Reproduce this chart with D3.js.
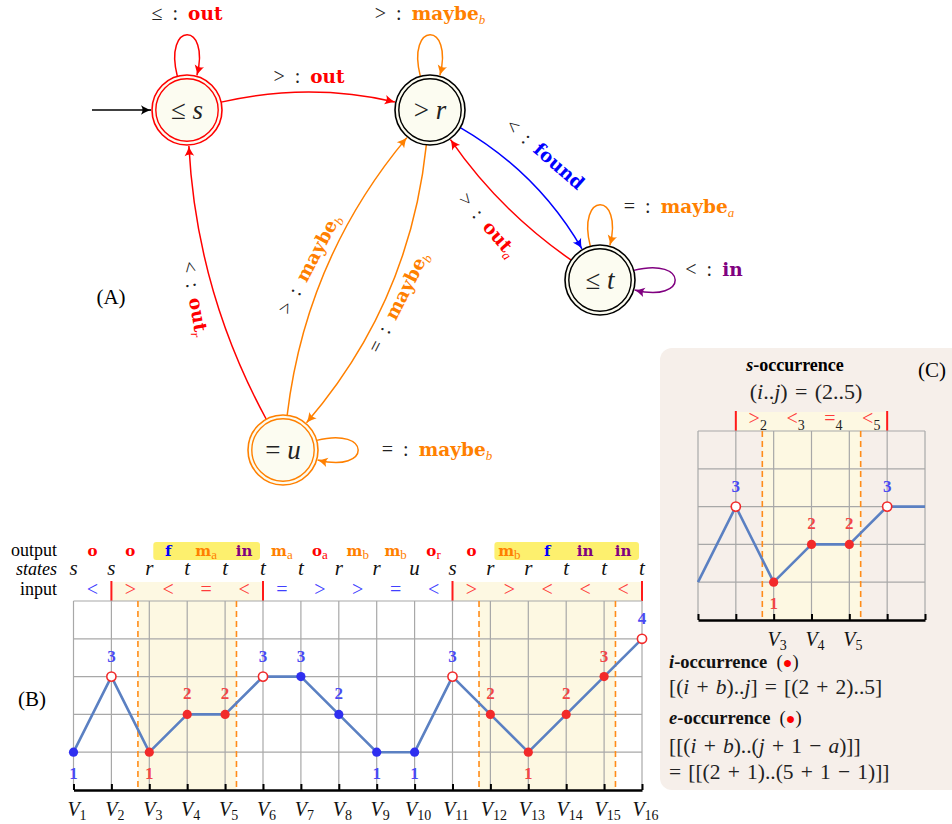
<!DOCTYPE html>
<html>
<head>
<meta charset="utf-8">
<script src="https://cdn.jsdelivr.net/npm/d3@7/dist/d3.min.js"></script>
<style>
  body { margin: 0; background: #fff; }
  svg text { font-family: "Liberation Serif", "DejaVu Serif", serif; white-space: pre; }
</style>
</head>
<body>
<svg id="chart" width="952" height="824"></svg>
<script>
// ---------- data ----------
var vNames = ["V1","V2","V3","V4","V5","V6","V7","V8","V9","V10","V11","V12","V13","V14","V15","V16"];
var levels = [1,3,1,2,2,3,3,2,1,1,3,2,1,2,3,4];
var states = ["s","s","r","t","t","t","t","r","r","u","s","r","r","t","t","t"];
var inputs = ["<",">","<","=","<","=",">",">","=","<",">",">","<","<","<"];
var outputs = ["o","o","f","m_a","in","m_a","o_a","m_b","m_b","o_r","o","m_b","f","in","in"];
var pointKind = ["blue","open","red","red","red","open","blue","blue","blue","blue","open","red","red","red","red","open"];
var labelKind = ["blue","blue","red","red","red","blue","blue","blue","blue","blue","blue","red","red","red","red","blue"];
var matchSpans = [[2,6],[11,16]];
var outSpans = [[3,6],[12,16]];
var occSpans = [[3,5],[12,15]];

// panel C
var cNames = vNames.slice(0, 7);
var cLevels = levels.slice(0, 7);
var cPoints = ["", "open", "red", "red", "red", "open", ""];
var cLabelKind = ["", "blue", "red", "red", "red", "blue", ""];
var cHeader = [[">","2"],["<","3"],["=","4"],["<","5"]];
var cTickNames = ["V3","V4","V5"];

// automaton
var autStates = [
  {id: "s", op: "\u2264", v: "s", color: "#ff0000"},
  {id: "r", op: ">", v: "r", color: "#000000"},
  {id: "t", op: "\u2264", v: "t", color: "#000000"},
  {id: "u", op: "=", v: "u", color: "#ff8000"}
];
var autEdges = [
  {from: "s", to: "r", sym: ">", word: "out", sub: "", color: "red"},
  {from: "r", to: "t", sym: "<", word: "found", sub: "", color: "blue"},
  {from: "t", to: "r", sym: ">", word: "out", sub: "a", color: "red"},
  {from: "u", to: "s", sym: "<", word: "out", sub: "r", color: "red"},
  {from: "u", to: "r", sym: ">", word: "maybe", sub: "b", color: "orange"},
  {from: "r", to: "u", sym: "=", word: "maybe", sub: "b", color: "orange"}
];
var autLoops = [
  {at: "s", sym: "\u2264", word: "out", sub: "", color: "red"},
  {at: "r", sym: ">", word: "maybe", sub: "b", color: "orange"},
  {at: "t", sym: "=", word: "maybe", sub: "a", color: "orange"},
  {at: "t", sym: "<", word: "in", sub: "", color: "purple"},
  {at: "u", sym: "=", word: "maybe", sub: "b", color: "orange"}
];

// ---------- layout ----------
var col = {red: "#ff0000", orange: "#ff8000", blue: "#0000ff", purple: "#800080", black: "#000"};
var outColor = {o: col.red, f: col.blue, m: col.orange, "in": col.purple};
var numColor = {blue: "#4a4af2", red: "#f24646"};
var dotColor = {blue: "#2f2ff0", red: "#f22a2a"};
var inColor = {match: "#ff3b3b", other: "#4040ff"};
var SHADE = "#fdf8e2", LINE = "#5b80c2", GRID = "#a8a8a8", DASH = "#ff8c1a";
var SP = "\u2004";

var svg = d3.select("#chart");
var defs = svg.append("defs");
Object.keys(col).forEach(function (k) {
  defs.append("marker")
    .attr("id", "arr-" + k)
    .attr("viewBox", "-11 -6 12 12")
    .attr("refX", 0).attr("refY", 0)
    .attr("markerWidth", 12).attr("markerHeight", 12)
    .attr("markerUnits", "userSpaceOnUse")
    .attr("orient", "auto")
    .append("path")
    .attr("d", "M-10,-4.8 Q-4,-1 0,0 Q-4,1 -10,4.8 Q-7,0 -10,-4.8Z")
    .attr("fill", col[k]);
});

// ================= (A) automaton =================
var R = 35;
var nodePos = {s: {x: 187, y: 110}, r: {x: 430, y: 110}, t: {x: 600, y: 280}, u: {x: 283, y: 450}};
var bends = [28, 32, 22, 40, 55, 58];
var edgeLabelPos = [
  {x: 309, y: 78, a: 0},
  {x: 541, y: 154, a: 41},
  {x: 483, y: 224, a: 49},
  {x: 189, y: 295, a: 80},
  {x: 315, y: 262, a: -62},
  {x: 404, y: 300, a: -63}
];
var loopGeom = [
  {ang: -90, lx: 187, ly: 20},
  {ang: -90, lx: 430, ly: 20},
  {ang: -90, lx: 679, ly: 213},
  {ang: 0, lx: 714, ly: 276},
  {ang: 0, lx: 437, ly: 456}
];

var gA = svg.append("g");

function onCircle(c, tx, ty, r) {
  var dx = tx - c.x, dy = ty - c.y, l = Math.hypot(dx, dy);
  return [c.x + r * dx / l, c.y + r * dy / l];
}

function addLabel(g, x, y, angle, sym, word, sub, color, anchor) {
  var t = g.append("text")
    .attr("transform", "translate(" + x + "," + y + ") rotate(" + angle + ")")
    .attr("text-anchor", anchor || "middle")
    .attr("font-size", 20);
  t.append("tspan").attr("fill", "#222").text(sym + "\u2002:\u2002");
  t.append("tspan").attr("fill", col[color])
    .attr("font-family", "'DejaVu Serif', serif").attr("font-weight", "bold")
    .attr("font-size", 18.5).text(word);
  if (sub) {
    t.append("tspan").attr("fill", col[color]).attr("font-style", "italic")
      .attr("font-size", 13).attr("dy", 4).text(sub);
  }
}

autEdges.forEach(function (e, i) {
  var a = nodePos[e.from], b = nodePos[e.to];
  var dx = b.x - a.x, dy = b.y - a.y, len = Math.hypot(dx, dy);
  var cx = (a.x + b.x) / 2 + bends[i] * dy / len;
  var cy = (a.y + b.y) / 2 - bends[i] * dx / len;
  var p0 = onCircle(a, cx, cy, R), p2 = onCircle(b, cx, cy, R + 1);
  var p = d3.path();
  p.moveTo(p0[0], p0[1]);
  p.quadraticCurveTo(cx, cy, p2[0], p2[1]);
  gA.append("path").attr("d", p.toString())
    .attr("fill", "none").attr("stroke", col[e.color]).attr("stroke-width", 1.5)
    .attr("marker-end", "url(#arr-" + e.color + ")");
  var lp = edgeLabelPos[i];
  addLabel(gA, lp.x, lp.y + 5, lp.a, e.sym, e.word, e.sub, e.color);
});

autLoops.forEach(function (l, i) {
  var c = nodePos[l.at], g = loopGeom[i];
  var a = g.ang * Math.PI / 180, s = 16 * Math.PI / 180, w = 15 * Math.PI / 180;
  function pt(r, t) { return [c.x + r * Math.cos(t), c.y + r * Math.sin(t)]; }
  var p0 = pt(R, a - s), p1 = pt(R + 57, a - w), p2 = pt(R + 57, a + w), p3 = pt(R + 1, a + s);
  var p = d3.path();
  p.moveTo(p0[0], p0[1]);
  p.bezierCurveTo(p1[0], p1[1], p2[0], p2[1], p3[0], p3[1]);
  gA.append("path").attr("d", p.toString())
    .attr("fill", "none").attr("stroke", col[l.color]).attr("stroke-width", 1.5)
    .attr("marker-end", "url(#arr-" + l.color + ")");
  addLabel(gA, g.lx, g.ly, 0, l.sym, l.word, l.sub, l.color);
});

// initial arrow
gA.append("line").attr("x1", 92).attr("y1", 110).attr("x2", nodePos.s.x - R - 1).attr("y2", 110)
  .attr("stroke", "#000").attr("stroke-width", 1.5).attr("marker-end", "url(#arr-black)");

var nodes = gA.selectAll("g.node").data(autStates).enter().append("g")
  .attr("transform", function (d) { return "translate(" + nodePos[d.id].x + "," + nodePos[d.id].y + ")"; });
nodes.append("circle").attr("r", R).attr("fill", "#fcfcf1").attr("stroke", function (d) { return d.color; }).attr("stroke-width", 1.6);
nodes.append("circle").attr("r", R - 3.8).attr("fill", "none").attr("stroke", function (d) { return d.color; }).attr("stroke-width", 1.4);
var nt = nodes.append("text").attr("text-anchor", "middle").attr("y", 9).attr("font-size", 27).attr("fill", "#222");
nt.append("tspan").text(function (d) { return d.op + " "; });
nt.append("tspan").attr("font-style", "italic").text(function (d) { return d.v; });

gA.append("text").attr("x", 111).attr("y", 304).attr("text-anchor", "middle").attr("font-size", 21).text("(A)");

// ================= (B) sequence chart =================
var gB = svg.append("g");
var xB = d3.scalePoint().domain(vNames).range([73.5, 642]);
var yB = d3.scaleLinear().domain([0, 5]).range([790, 601]);
var step = xB.step();
function midB(i) { return (xB(vNames[i]) + xB(vNames[i + 1])) / 2; }
function inMatch(i) {
  return matchSpans.some(function (m) { return i + 1 >= m[0] && i + 2 <= m[1]; });
}

// row headers
gB.append("text").attr("x", 57).attr("y", 556).attr("text-anchor", "end").attr("font-size", 18).text("output");
gB.append("text").attr("x", 57).attr("y", 575).attr("text-anchor", "end").attr("font-size", 18).attr("font-style", "italic").text("states");
gB.append("text").attr("x", 57).attr("y", 595).attr("text-anchor", "end").attr("font-size", 18).text("input");

// output highlight boxes
gB.selectAll("rect.out").data(outSpans).enter().append("rect")
  .attr("x", function (d) { return xB(vNames[d[0] - 1]) + 4; })
  .attr("width", function (d) { return xB(vNames[d[1] - 1]) - xB(vNames[d[0] - 1]) - 7; })
  .attr("y", 542).attr("height", 18).attr("rx", 3).attr("fill", "#fdf06e");

// input highlight bands + occurrence shading
gB.selectAll("rect.in").data(matchSpans).enter().append("rect")
  .attr("x", function (d) { return xB(vNames[d[0] - 1]); })
  .attr("width", function (d) { return xB(vNames[d[1] - 1]) - xB(vNames[d[0] - 1]); })
  .attr("y", 582).attr("height", 19).attr("fill", SHADE);
gB.selectAll("rect.occ").data(occSpans).enter().append("rect")
  .attr("x", function (d) { return xB(vNames[d[0] - 1]) - 0.3 * step; })
  .attr("width", function (d) { return xB(vNames[d[1] - 1]) - xB(vNames[d[0] - 1]) + 0.6 * step; })
  .attr("y", yB(5)).attr("height", yB(0) - yB(5)).attr("fill", SHADE);

// outputs
gB.selectAll("text.out").data(outputs).enter().append("text")
  .attr("x", function (d, i) { return midB(i); })
  .attr("y", 556).attr("text-anchor", "middle")
  .each(function (d) {
    var parts = d.split("_"), t = d3.select(this);
    t.append("tspan").attr("font-family", "'DejaVu Serif', serif").attr("font-weight", "bold")
      .attr("font-size", 15).attr("fill", outColor[parts[0]]).text(parts[0]);
    if (parts[1]) t.append("tspan").attr("font-size", 13).attr("dy", 3).attr("fill", outColor[parts[0]]).text(parts[1]);
  });

// states
gB.selectAll("text.st").data(states).enter().append("text")
  .attr("x", function (d, i) { return xB(vNames[i]); })
  .attr("y", 575).attr("text-anchor", "middle").attr("font-size", 21).attr("font-style", "italic")
  .attr("fill", "#111").text(function (d) { return d; });

// inputs
gB.selectAll("text.inp").data(inputs).enter().append("text")
  .attr("x", function (d, i) { return midB(i); })
  .attr("y", 596).attr("text-anchor", "middle").attr("font-size", 20)
  .attr("fill", function (d, i) { return inMatch(i) ? inColor.match : inColor.other; })
  .text(function (d) { return d; });

// red separators
var seps = [];
matchSpans.forEach(function (m) { seps.push(m[0], m[1]); });
gB.selectAll("line.sep").data(seps).enter().append("line")
  .attr("x1", function (d) { return xB(vNames[d - 1]); }).attr("x2", function (d) { return xB(vNames[d - 1]); })
  .attr("y1", 581).attr("y2", 601).attr("stroke", "#ff1a1a").attr("stroke-width", 2);

function drawGrid(g, x, y, names) {
  g.selectAll("line.h").data(d3.range(1, 6)).enter().append("line")
    .attr("x1", x(names[0])).attr("x2", x(names[names.length - 1]))
    .attr("y1", function (d) { return y(d); }).attr("y2", function (d) { return y(d); })
    .attr("stroke", GRID).attr("stroke-width", 1.2);
  g.selectAll("line.v").data(names).enter().append("line")
    .attr("x1", function (d) { return x(d); }).attr("x2", function (d) { return x(d); })
    .attr("y1", y(5)).attr("y2", y(0))
    .attr("stroke", GRID).attr("stroke-width", 1.2);
}
function drawDashes(g, x, y, spans, names) {
  var xs = [];
  spans.forEach(function (s) { xs.push(x(names[s[0] - 1]) - 0.3 * x.step(), x(names[s[1] - 1]) + 0.3 * x.step()); });
  g.selectAll("line.d").data(xs).enter().append("line")
    .attr("x1", function (d) { return d; }).attr("x2", function (d) { return d; })
    .attr("y1", y(5)).attr("y2", y(0))
    .attr("stroke", DASH).attr("stroke-width", 1.6).attr("stroke-dasharray", "6,4");
}
function drawSeries(g, x, y, names, vals, kinds, lkinds) {
  var line = d3.line().x(function (d, i) { return x(names[i]); }).y(function (d) { return y(d); });
  g.append("path").datum(vals).attr("d", line).attr("fill", "none")
    .attr("stroke", LINE).attr("stroke-width", 2.6).attr("stroke-linejoin", "round");
  var pts = vals.map(function (v, i) { return {name: names[i], v: v, k: kinds[i], lk: lkinds[i]}; })
    .filter(function (d) { return d.k; });
  g.selectAll("circle.p").data(pts).enter().append("circle")
    .attr("cx", function (d) { return x(d.name); }).attr("cy", function (d) { return y(d.v); })
    .attr("r", 4.6)
    .attr("fill", function (d) { return d.k === "open" ? "#fff" : dotColor[d.k]; })
    .attr("stroke", function (d) { return d.k === "open" ? "#f22a2a" : "none"; })
    .attr("stroke-width", 1.6);
  g.selectAll("text.n").data(pts).enter().append("text")
    .attr("x", function (d) { return x(d.name); })
    .attr("y", function (d) { return d.v === 1 ? y(d.v) + 27 : y(d.v) - 15; })
    .attr("text-anchor", "middle")
    .attr("font-family", "'DejaVu Serif', serif").attr("font-weight", "bold").attr("font-size", 17)
    .attr("fill", function (d) { return numColor[d.lk]; })
    .text(function (d) { return d.v; });
}
function drawAxis(g, x, y, fmt) {
  var ax = g.append("g").attr("transform", "translate(0," + y(0) + ")")
    .call(d3.axisBottom(x).tickSizeInner(-6).tickSizeOuter(0).tickPadding(12).tickFormat(fmt));
  ax.select(".domain").attr("stroke", "#000").attr("stroke-width", 2.5);
  ax.selectAll(".tick line").attr("stroke", "#000").attr("stroke-width", 2);
  ax.selectAll(".tick text").attr("fill", "#111").attr("font-size", 20).attr("x", 3)
    .attr("font-family", "'Liberation Serif', serif")
    .each(function () {
      var s = d3.select(this).text();
      if (!s) return;
      var t = d3.select(this).text("");
      t.append("tspan").attr("font-style", "italic").text("V");
      t.append("tspan").attr("font-size", 14).attr("dy", 4).text(s.slice(1));
    });
}

drawGrid(gB, xB, yB, vNames);
drawDashes(gB, xB, yB, occSpans, vNames);
drawSeries(gB, xB, yB, vNames, levels, pointKind, labelKind);
drawAxis(gB, xB, yB, function (d) { return d; });
gB.append("text").attr("x", 32).attr("y", 706).attr("text-anchor", "middle").attr("font-size", 21).text("(B)");

// ================= (C) zoom panel =================
var gC = svg.append("g");
gC.append("rect").attr("x", 660).attr("y", 348).attr("width", 320).attr("height", 442).attr("rx", 12).attr("fill", "#f6efea");

var xC = d3.scalePoint().domain(cNames).range([698, 925]);
var yC = d3.scaleLinear().domain([0, 5]).range([620, 431]);
var sC = xC.step();

var ttl = gC.append("text").attr("x", 795).attr("y", 371).attr("text-anchor", "middle")
  .attr("font-size", 18).attr("font-weight", "bold");
ttl.append("tspan").attr("font-style", "italic").text("s");
ttl.append("tspan").text("-occurrence");
gC.append("text").attr("x", 932).attr("y", 377).attr("text-anchor", "middle").attr("font-size", 21).text("(C)");

function mathText(g, x, y, str, size, anchor) {
  var t = g.append("text").attr("x", x).attr("y", y).attr("font-size", size).attr("fill", "#222")
    .attr("text-anchor", anchor || "start");
  str.replace(/ /g, SP).split(/([a-z])/).forEach(function (p, i) {
    if (!p) return;
    t.append("tspan").attr("font-style", i % 2 ? "italic" : "normal").text(p);
  });
  return t;
}
mathText(gC, 806, 399, "(i..j) = (2..5)", 22, "middle");

// header band
gC.append("rect").attr("x", xC("V2")).attr("width", xC("V6") - xC("V2")).attr("y", 412).attr("height", 19).attr("fill", SHADE);
gC.append("rect").attr("x", xC("V3") - 0.3 * sC).attr("width", xC("V5") - xC("V3") + 0.6 * sC)
  .attr("y", yC(5)).attr("height", yC(0) - yC(5)).attr("fill", SHADE);
["V2", "V6"].forEach(function (n) {
  gC.append("line").attr("x1", xC(n)).attr("x2", xC(n)).attr("y1", 411).attr("y2", 431)
    .attr("stroke", "#ff1a1a").attr("stroke-width", 2);
});
gC.selectAll("text.h").data(cHeader).enter().append("text")
  .attr("x", function (d, i) { return (xC(cNames[i + 1]) + xC(cNames[i + 2])) / 2 + 3; })
  .attr("y", 425).attr("text-anchor", "middle").attr("font-size", 20)
  .each(function (d) {
    var t = d3.select(this);
    t.append("tspan").attr("fill", "#ff3b3b").text(d[0]);
    t.append("tspan").attr("fill", "#222").attr("font-size", 14).attr("dy", 5).text(d[1]);
  });

drawGrid(gC, xC, yC, cNames);
drawDashes(gC, xC, yC, [[3, 5]], cNames);
drawSeries(gC, xC, yC, cNames, cLevels, cPoints, cLabelKind);
drawAxis(gC, xC, yC, function (d) { return cTickNames.indexOf(d) >= 0 ? d : ""; });

function occTitle(y, letter) {
  var t = gC.append("text").attr("x", 669).attr("y", y).attr("font-size", 18.5).attr("fill", "#111");
  t.append("tspan").attr("font-weight", "bold").attr("font-style", "italic").text(letter);
  t.append("tspan").attr("font-weight", "bold").text("-occurrence ");
  t.append("tspan").text(" (");
  t.append("tspan").attr("fill", "#ff0000").attr("font-size", 16).text("\u25CF");
  t.append("tspan").text(")");
}
occTitle(668, "i");
mathText(gC, 669, 694, "[(i + b)..j] = [(2 + 2)..5]", 21.5);
occTitle(724, "e");
mathText(gC, 669, 753, "[[(i + b)..(j + 1 \u2212 a)]]", 21.5);
mathText(gC, 669, 779, "= [[(2 + 1)..(5 + 1 \u2212 1)]]", 21.5);
</script>
</body>
</html>
